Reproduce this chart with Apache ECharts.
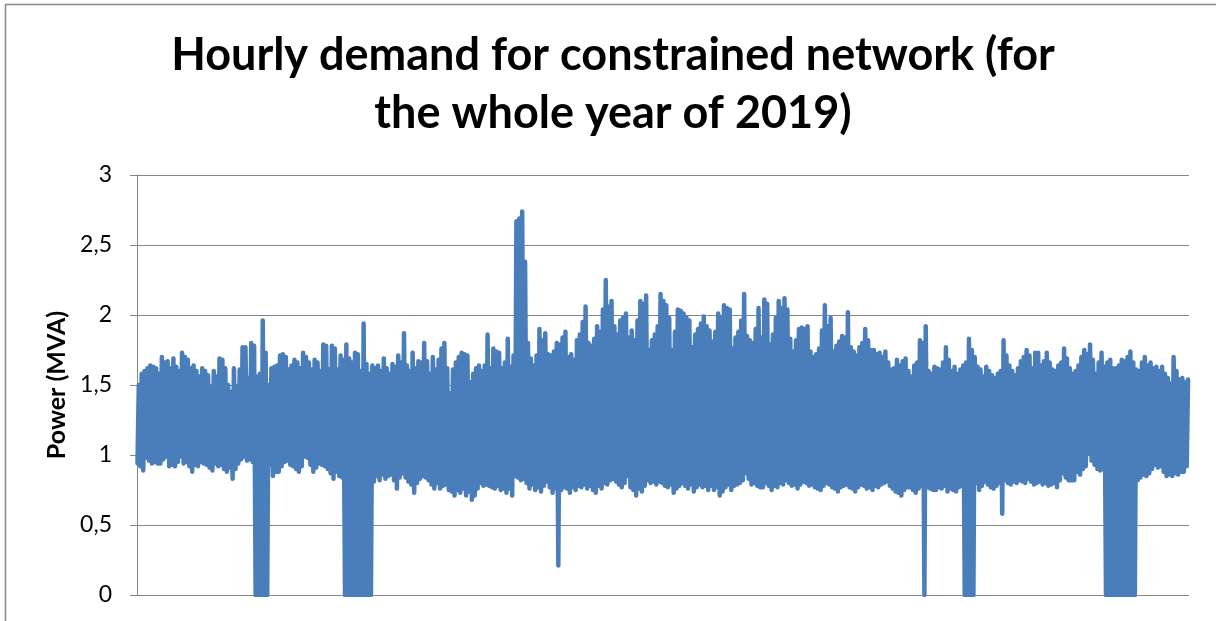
<!DOCTYPE html>
<html>
<head>
<meta charset="utf-8">
<style>
  html, body { margin: 0; padding: 0; background: #ffffff; }
  #chart { width: 1216px; height: 621px; }
</style>
<script src="https://cdn.jsdelivr.net/npm/echarts@6/dist/echarts.min.js"></script>
</head>
<body>
<div id="chart"></div>
<script>
// Daily maximum (afternoon) demand, MVA, day 0 = 1 Jan 2019
const dailyPeak = [
  1.50,1.58,1.60,1.62,1.64,1.63,1.62,1.58,1.70,1.66,
  1.67,1.62,1.69,1.63,1.60,1.73,1.70,1.68,1.62,1.64,
  1.60,1.56,1.62,1.60,1.57,1.49,1.60,1.56,1.69,1.68,
  1.62,1.50,1.45,1.62,1.49,1.61,1.77,1.77,1.55,1.80,
  1.78,1.56,1.58,1.96,1.73,1.50,1.62,1.63,1.64,1.71,
  1.72,1.70,1.61,1.64,1.68,1.66,1.62,1.73,1.70,1.66,
  1.61,1.68,1.66,1.60,1.79,1.78,1.61,1.78,1.76,1.61,
  1.71,1.68,1.79,1.69,1.66,1.73,1.72,1.60,1.94,1.65,
  1.58,1.64,1.62,1.64,1.60,1.69,1.62,1.58,1.65,1.63,
  1.71,1.66,1.87,1.64,1.60,1.73,1.62,1.67,1.66,1.80,
  1.67,1.58,1.70,1.61,1.68,1.76,1.80,1.62,1.44,1.61,
  1.66,1.70,1.73,1.72,1.71,1.52,1.58,1.62,1.64,1.60,
  1.64,1.86,1.62,1.76,1.74,1.73,1.62,1.66,1.83,1.63,
  1.71,2.67,2.69,2.74,2.38,1.80,1.69,1.64,1.71,1.90,
  1.82,1.87,1.72,1.71,1.74,1.80,1.79,1.84,1.88,1.70,
  1.72,1.68,1.82,1.86,1.95,2.06,1.80,1.78,1.83,1.92,
  1.88,2.04,2.25,2.06,2.10,1.92,1.86,1.96,1.98,2.01,
  1.84,1.89,1.82,1.96,2.10,2.08,2.14,1.75,1.82,1.86,
  1.92,2.15,2.10,2.07,1.98,1.75,1.88,2.04,2.03,2.01,
  1.98,1.96,1.77,1.86,1.90,1.94,1.99,1.92,1.89,1.81,
  1.88,2.01,1.98,2.07,2.05,2.04,1.76,1.84,1.88,1.96,
  2.15,1.85,1.82,1.80,1.90,2.05,1.84,2.11,2.08,1.79,
  1.86,1.98,2.10,2.05,2.12,2.04,1.83,1.74,1.82,1.90,
  1.91,1.90,1.92,1.74,1.70,1.72,1.76,1.89,2.07,1.92,
  1.98,1.74,1.78,1.81,1.85,1.84,2.02,1.77,1.74,1.71,
  1.77,1.80,1.90,1.82,1.75,1.75,1.72,1.73,1.70,1.74,
  1.66,1.61,1.62,1.68,1.64,1.67,1.69,1.60,1.56,1.64,
  1.66,1.82,1.80,1.92,1.60,1.58,1.63,1.62,1.61,1.66,
  1.77,1.68,1.60,1.63,1.58,1.61,1.64,1.66,1.83,1.75,
  1.70,1.63,1.61,1.56,1.63,1.60,1.57,1.55,1.58,1.60,
  1.82,1.71,1.64,1.60,1.57,1.62,1.67,1.70,1.75,1.71,
  1.62,1.73,1.73,1.64,1.67,1.73,1.66,1.61,1.60,1.64,
  1.66,1.76,1.69,1.62,1.58,1.60,1.64,1.70,1.75,1.72,
  1.79,1.68,1.58,1.66,1.73,1.63,1.66,1.68,1.62,1.62,
  1.64,1.68,1.67,1.70,1.74,1.66,1.61,1.60,1.66,1.70,
  1.64,1.66,1.62,1.63,1.60,1.63,1.58,1.55,1.51,1.70,
  1.60,1.54,1.55,1.52,1.54
];

// Daily minimum (night) demand, MVA; zeros are hours with the feeder out of service
const dailyTrough = [
  0.94,0.92,0.89,0.98,0.96,0.94,0.95,0.94,0.94,0.97,
  0.99,0.92,0.93,0.92,0.95,0.99,0.94,0.95,0.92,0.88,
  0.93,0.92,0.95,0.94,0.93,0.91,0.89,0.94,0.92,0.93,
  0.90,0.88,0.91,0.83,0.90,0.94,0.97,0.99,0.96,0.97,
  0.95,0,0,0,0,0,0.93,0.85,0.88,0.88,
  0.92,0.95,0.96,0.93,0.92,0.90,0.88,0.92,0.99,0.98,
  0.93,0.88,0.91,0.94,0.93,0.92,0.90,0.87,0.83,0.88,
  0.85,0.84,0,0,0,0,0,0,0,0,
  0,0,0.81,0.85,0.82,0.86,0.83,0.85,0.86,0.82,
  0.76,0.84,0.87,0.84,0.81,0.79,0.73,0.80,0.83,0.85,
  0.84,0.82,0.79,0.76,0.80,0.76,0.78,0.79,0.75,0.74,
  0.71,0.75,0.73,0.76,0.71,0.74,0.68,0.71,0.76,0.80,
  0.78,0.79,0.78,0.77,0.76,0.78,0.75,0.76,0.73,0.76,
  0.71,0.85,0.84,0.82,0.83,0.80,0.76,0.79,0.75,0.77,
  0.74,0.78,0.81,0.77,0.73,0.76,0.21,0.75,0.77,0.76,
  0.73,0.77,0.75,0.78,0.77,0.79,0.76,0.78,0.75,0.73,
  0.78,0.76,0.80,0.79,0.82,0.83,0.81,0.79,0.77,0.80,
  0.85,0.77,0.75,0.71,0.76,0.74,0.78,0.82,0.80,0.81,
  0.79,0.81,0.80,0.78,0.77,0.79,0.73,0.76,0.78,0.80,
  0.78,0.76,0.79,0.74,0.77,0.79,0.77,0.78,0.75,0.78,
  0.75,0.77,0.71,0.74,0.77,0.79,0.75,0.78,0.79,0.80,
  0.82,0.87,0.83,0.79,0.80,0.78,0.77,0.77,0.80,0.78,
  0.75,0.78,0.77,0.80,0.79,0.82,0.80,0.78,0.79,0.76,
  0.79,0.81,0.80,0.78,0.79,0.77,0.76,0.75,0.78,0.80,
  0.79,0.77,0.76,0.74,0.77,0.78,0.79,0.77,0.76,0.74,
  0.77,0.79,0.78,0.76,0.77,0.75,0.78,0.77,0.79,0.80,
  0.81,0.78,0.76,0.74,0.73,0.71,0.75,0.77,0.77,0.75,
  0.73,0.76,0.78,0,0.77,0.76,0.75,0.75,0.77,0.76,
  0.78,0.74,0.76,0.75,0.74,0.77,0.78,0,0,0,
  0,0.80,0.75,0.78,0.81,0.79,0.77,0.76,0.78,0.80,
  0.58,0.82,0.80,0.79,0.81,0.80,0.82,0.81,0.80,0.83,
  0.81,0.79,0.80,0.81,0.79,0.80,0.78,0.79,0.80,0.77,
  0.82,0.87,0.84,0.82,0.82,0.82,0.88,0.86,0.90,0.92,
  1.01,0.96,0.93,0.90,0.89,0.90,0,0,0,0,
  0,0,0,0,0,0,0,0.82,0.84,0.86,
  0.85,0.87,0.90,0.93,0.91,0.92,0.88,0.85,0.86,0.85,
  0.87,0.86,0.88,0.88,0.92
];

// Hour of day at which the daily minimum and maximum occur
const troughHour = 4;
const peakHour = 15;

// Power axis ticks
const yTicks = { min: 0, max: 3, step: 0.5 };

const chartTitle = 'Hourly demand for constrained network (for\nthe whole year of 2019)';
const yAxisTitle = 'Power (MVA)';

// Build the hourly sequence: night minimum then afternoon maximum for every day
const series = [];
for (let d = 0; d < dailyPeak.length; d++) {
  series.push([d * 24 + troughHour, dailyTrough[d]]);
  series.push([d * 24 + peakHour, dailyPeak[d]]);
}

const chart = echarts.init(document.getElementById('chart'), null, { renderer: 'canvas' });

chart.setOption({
  animation: false,
  backgroundColor: '#ffffff',
  title: {
    text: chartTitle,
    left: 608,
    top: 21,
    textAlign: 'center',
    textStyle: {
      fontFamily: 'Lato',
      fontWeight: 'bold',
      fontSize: 45,
      lineHeight: 58,
      color: '#000000'
    }
  },
  graphic: [{
    type: 'rect',
    silent: true,
    shape: { x: 5.5, y: 4.5, width: 1400, height: 800 },
    style: { fill: 'none', stroke: '#878787', lineWidth: 1.5 },
    z: 0
  }],
  grid: { left: 137, right: 27, top: 175, bottom: 26 },
  xAxis: {
    type: 'value',
    min: 0,
    max: dailyPeak.length * 24 - 1,
    axisLine: { show: false },
    axisTick: { show: false },
    axisLabel: { show: false },
    splitLine: { show: false }
  },
  yAxis: {
    type: 'value',
    min: yTicks.min,
    max: yTicks.max,
    interval: yTicks.step,
    name: yAxisTitle,
    nameLocation: 'middle',
    nameGap: 66,
    nameTextStyle: {
      fontFamily: 'Lato',
      fontWeight: 'bold',
      fontSize: 25,
      color: '#000000'
    },
    axisLine: { show: true, lineStyle: { color: '#868686', width: 1 } },
    axisTick: { show: true, length: 7, lineStyle: { color: '#868686', width: 1 } },
    axisLabel: {
      margin: 25,
      fontFamily: 'Lato',
      fontSize: 23,
      color: '#000000',
      formatter: v => String(v).replace('.', ',')
    },
    splitLine: { show: true, lineStyle: { color: '#868686', width: 1 } }
  },
  series: [{
    type: 'line',
    data: series,
    showSymbol: false,
    symbol: 'none',
    sampling: null,
    lineStyle: { color: '#4a7ebb', width: 4.5, cap: 'round', join: 'round' },
    z: 3
  }]
});
</script>
</body>
</html>
